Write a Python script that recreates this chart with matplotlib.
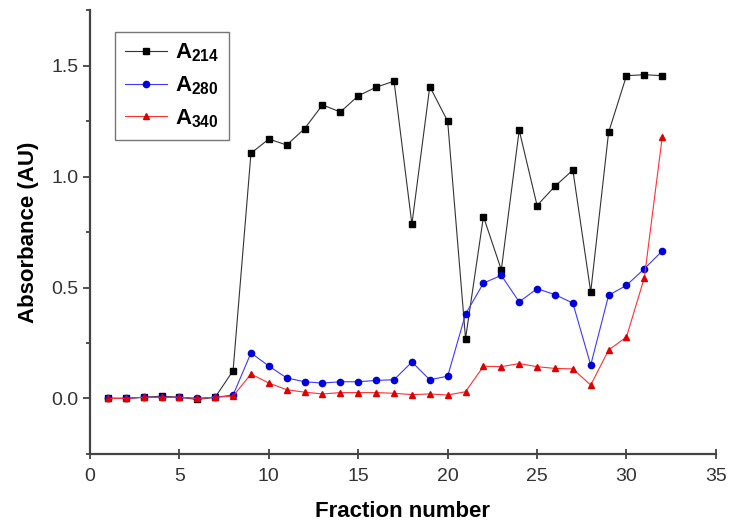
import numpy as np
import matplotlib
matplotlib.use("Agg")
import matplotlib.pyplot as plt
from matplotlib.ticker import MultipleLocator

fractions = list(range(1, 33))

# absorbance readings per fraction
a214 = [0.0, 0.0, 0.005, 0.01, 0.005, -0.005, 0.005, 0.125,
        1.106, 1.17, 1.143, 1.217, 1.324, 1.292, 1.365, 1.404,
        1.431, 0.786, 1.407, 1.25, 0.27, 0.82, 0.58, 1.21,
        0.87, 0.957, 1.03, 0.48, 1.20, 1.456, 1.46, 1.456]
a280 = [0.0, 0.0, 0.005, 0.005, 0.005, 0.0, 0.005, 0.015,
        0.205, 0.146, 0.092, 0.075, 0.069, 0.075, 0.075, 0.081,
        0.084, 0.164, 0.084, 0.10, 0.38, 0.52, 0.555, 0.435,
        0.495, 0.468, 0.43, 0.15, 0.465, 0.51, 0.585, 0.665]
a340 = [0.0, 0.0, 0.005, 0.005, 0.005, 0.0, 0.005, 0.01,
        0.11, 0.069, 0.039, 0.028, 0.02, 0.026, 0.026, 0.026,
        0.023, 0.017, 0.02, 0.015, 0.03, 0.145, 0.143, 0.157,
        0.143, 0.135, 0.133, 0.06, 0.218, 0.277, 0.545, 1.18]

x_ticks = [0, 5, 10, 15, 20, 25, 30, 35]

plt.rcParams["font.family"] = ["Liberation Sans", "DejaVu Sans"]
plt.rcParams["mathtext.fontset"] = "custom"
plt.rcParams["mathtext.bf"] = "Liberation Sans:bold"
plt.rcParams["mathtext.rm"] = "Liberation Sans"

fig = plt.figure(figsize=(7.32, 5.24), dpi=100)
ax = fig.add_axes([0.123, 0.134, 0.855, 0.846])

ax.plot(fractions, a214, color="#333333", linewidth=0.8, marker="s",
        markersize=4.5, markerfacecolor="black", markeredgecolor="black",
        label=r"$\mathbf{A_{214}}$")
ax.plot(fractions, a280, color="#3a3aff", linewidth=0.8, marker="o",
        markersize=4.5, markerfacecolor="#0000dd", markeredgecolor="#0000dd",
        label=r"$\mathbf{A_{280}}$")
ax.plot(fractions, a340, color="#ff3030", linewidth=0.8, marker="^",
        markersize=4.5, markerfacecolor="#dd0000", markeredgecolor="#dd0000",
        label=r"$\mathbf{A_{340}}$")

ax.set_xlim(0, 35)
ax.set_ylim(-0.25, 1.75)
ax.set_xticks(x_ticks)
ax.yaxis.set_major_locator(MultipleLocator(0.5))
ax.yaxis.set_minor_locator(MultipleLocator(0.25))
ax.yaxis.set_major_formatter(plt.FormatStrFormatter("%.1f"))

for side in ["top", "right"]:
    ax.spines[side].set_visible(False)
for side in ["left", "bottom"]:
    ax.spines[side].set_linewidth(1.6)
    ax.spines[side].set_color("#444444")

ax.tick_params(axis="x", direction="inout", length=7, width=1.2,
               labelsize=14, colors="#333333", pad=7)
ax.tick_params(axis="y", which="major", direction="out", length=5, width=1.2,
               labelsize=14, colors="#333333")
ax.tick_params(axis="y", which="minor", direction="out", length=3, width=1.2,
               colors="#333333")

ax.set_xlabel("Fraction number", fontsize=16, fontweight="bold", labelpad=11)
ax.set_ylabel("Absorbance (AU)", fontsize=16, fontweight="bold", labelpad=9)

leg = ax.legend(loc="upper left", bbox_to_anchor=(0.04, 0.952), fontsize=16,
                frameon=True, fancybox=False, edgecolor="#555555",
                borderaxespad=0, handlelength=1.9, handletextpad=0.35,
                borderpad=0.45, labelspacing=0.45)
leg.get_frame().set_linewidth(1.0)

fig.savefig("out.png", dpi=100)
